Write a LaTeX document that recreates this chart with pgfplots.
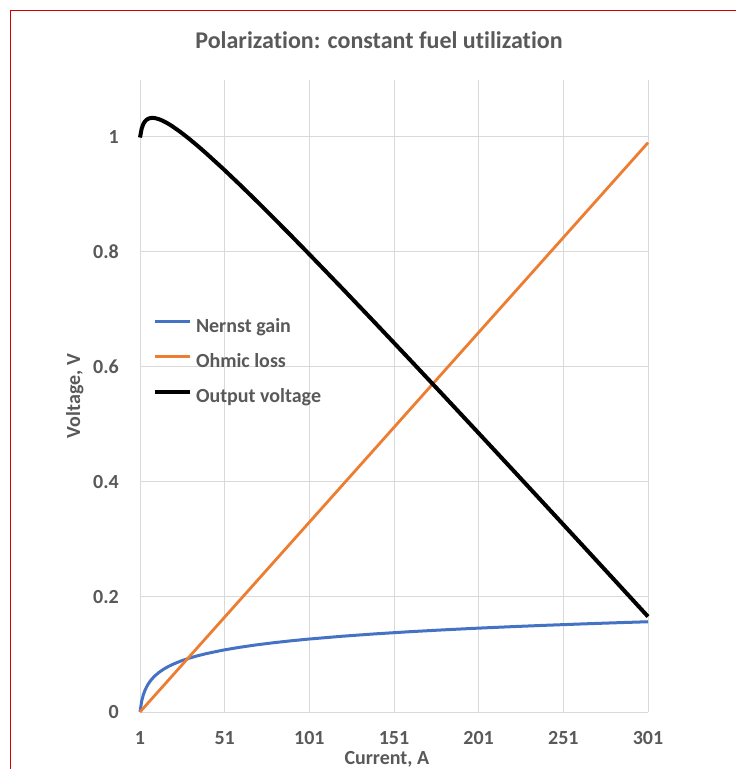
\documentclass[border=0pt]{standalone}
\usepackage{pgfplots}
\usepackage{pgfplotstable}
\pgfplotsset{compat=1.18}
\usepackage{fontspec}
\setmainfont{Carlito}[Ligatures={NoCommon,NoContextual}]
\definecolor{txt}{RGB}{89,89,89}
\definecolor{gridgray}{RGB}{217,217,217}
\definecolor{xblue}{RGB}{68,114,196}
\definecolor{xorange}{RGB}{237,125,49}
\definecolor{framered}{RGB}{210,0,0}
\pgfplotstableread{
I N O V
1 0 0 0.99900
2 0.01906 0.0033 1.01476
3 0.03021 0.0066 1.02261
4 0.03812 0.0099 1.02722
5 0.04426 0.0132 1.03006
6 0.04927 0.0165 1.03177
7 0.05351 0.0198 1.03271
8 0.05718 0.0231 1.03308
9 0.06042 0.0264 1.03302
10 0.06332 0.0297 1.03262
12 0.06833 0.0363 1.03103
14 0.07258 0.0429 1.02868
16 0.07625 0.0495 1.02575
18 0.07949 0.0561 1.02239
20 0.08238 0.0627 1.01868
25 0.08852 0.0792 1.00832
30 0.09353 0.0957 0.99683
35 0.09777 0.1122 0.98457
40 0.10144 0.1287 0.97174
50 0.10758 0.1617 0.94488
60 0.11259 0.1947 0.91689
70 0.11683 0.2277 0.88813
80 0.12051 0.2607 0.85881
90 0.12374 0.2937 0.82904
100 0.12664 0.3267 0.79894
120 0.13166 0.3927 0.73796
140 0.13589 0.4587 0.67619
160 0.13957 0.5247 0.61387
180 0.14281 0.5907 0.55111
200 0.14570 0.6567 0.48800
220 0.14832 0.7227 0.42462
240 0.15072 0.7887 0.36102
260 0.15292 0.8547 0.29722
280 0.15496 0.9207 0.23326
301 0.15695 0.9900 0.16595
}\datatable
\begin{document}
\begin{tikzpicture}[x=1pt,y=1pt]
\path[use as bounding box] (0,0) rectangle (736,769);
\draw[framered, line width=1pt] (10.7,0) -- (10.7,758) -- (736,758);
\node[anchor=base, font=\fontsize{24}{28}\selectfont\bfseries, text=txt, inner sep=0pt] at (379,720.7) {Polarization: constant fuel utilization};
\begin{axis}[
  at={(140pt,57pt)}, anchor=south west,
  width=508pt, height=632pt, scale only axis,
  xmin=1, xmax=301, ymin=0, ymax=1.099,
  xtick={1,51,101,151,201,251,301},
  ytick={0,0.2,0.4,0.6,0.8,1},
  grid=major,
  major grid style={draw=gridgray, line width=1pt},
  axis line style={draw=none},
  major tick length=0pt,
  /pgf/number format/assume math mode=true,
  ticklabel style={font=\fontsize{20}{24}\selectfont\bfseries, text=txt},
  xticklabel style={anchor=north, inner sep=0pt, yshift=-19pt},
  yticklabel style={anchor=east, inner sep=0pt, xshift=-21pt},
  xlabel={Current, A},
  ylabel={Voltage, V},
  every axis x label/.style={at={(axis description cs:0.486,-0.0823)}, anchor=base, font=\fontsize{20}{24}\selectfont\bfseries, text=txt, inner sep=0pt},
  every axis y label/.style={at={(axis description cs:-0.1181,0.5)}, anchor=base, rotate=90, font=\fontsize{20}{24}\selectfont\bfseries, text=txt, inner sep=0pt},
  clip=false,
  legend cell align=left,
  legend style={at={(axis description cs:0.0256,0.622)}, anchor=north west, draw=none, fill=none,
    inner sep=0pt, outer sep=0pt, row sep=17pt, column sep=4pt,
    font=\fontsize{20}{24}\selectfont\bfseries, text=txt,
    nodes={inner sep=0pt, text height=14pt, text depth=4pt}},
  legend image code/.code={\draw[#1, line cap=butt] (0pt,6pt) -- (35pt,6pt);},
]
\addplot[xblue, line width=3pt, line join=round] table[x=I, y=N] {\datatable};
\addlegendentry{Nernst gain}
\addplot[xorange, line width=2.8pt, line join=round] table[x=I, y=O] {\datatable};
\addlegendentry{Ohmic loss}
\addplot[black, line width=4pt, line join=round] table[x=I, y=V] {\datatable};
\addlegendentry{Output voltage}
\end{axis}
\end{tikzpicture}
\end{document}
